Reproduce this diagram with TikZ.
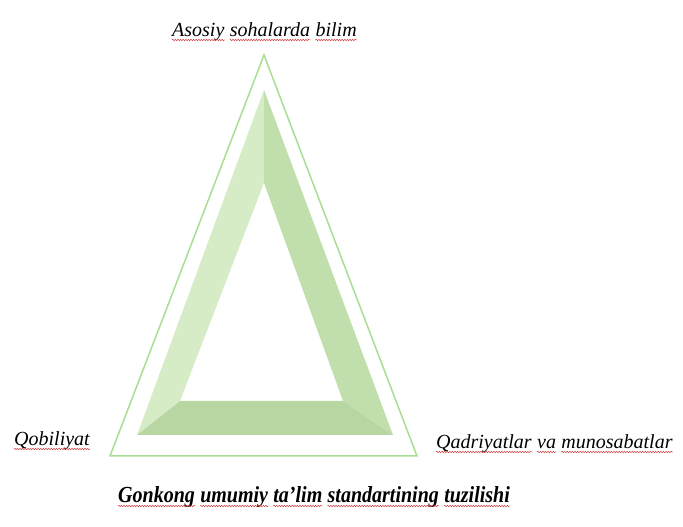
\documentclass[tikz,border=0pt]{standalone}
\usepackage{fontspec}
\setmainfont{Liberation Serif}
\usetikzlibrary{decorations.pathmorphing}
\definecolor{outerline}{HTML}{A9DE92}
\definecolor{faceL}{HTML}{D6ECC6}
\definecolor{faceR}{HTML}{C0DFAD}
\definecolor{faceB}{HTML}{B8D6A2}
\definecolor{spellred}{HTML}{D23A3A}
\tikzset{
  lbl/.style={font=\itshape\fontsize{20}{23}\selectfont, inner sep=0pt, anchor=base west},
  ttl/.style={font=\bfseries\itshape\fontsize{23}{26}\selectfont, inner sep=0pt, anchor=base west, xscale=0.87, transform shape},
  wave/.style={spellred, line width=0.5pt, decorate,
    decoration={snake, segment length=2.6pt, amplitude=0.7pt}},
}
\newcommand\underwave[1]{\draw[wave] ([yshift=-3pt]#1.base west) -- ([yshift=-3pt]#1.base east);}
\begin{document}
\begin{tikzpicture}[x=1pt,y=1pt]
\useasboundingbox (0,0) rectangle (683,527);
% outer triangle (y = 527 - pixel y)
\coordinate (oA) at (264,472);
\coordinate (oL) at (110,71);
\coordinate (oR) at (417,71);
\draw[outerline, line width=1.5pt, line join=miter] (oA) -- (oL) -- (oR) -- cycle;
% beveled band
\coordinate (bA) at (264,437);
\coordinate (bL) at (137,92);
\coordinate (bR) at (393,92);
\coordinate (hA) at (264,344);
\coordinate (hL) at (180,126);
\coordinate (hR) at (343,126);
\fill[faceL] (bA) -- (bL) -- (hL) -- (hA) -- cycle;
\fill[faceR] (bA) -- (bR) -- (hR) -- (hA) -- cycle;
\fill[faceB] (bL) -- (bR) -- (hR) -- (hL) -- cycle;
% top label
\node[lbl] (t1) at (172,490) {Asosiy};
\node[lbl] (t2) at ([xshift=5pt]t1.base east) {sohalarda};
\node[lbl] (t3) at ([xshift=5pt]t2.base east) {bilim};
% left label
\node[lbl] (l1) at (14,81) {Qobiliyat};
% right label
\node[lbl] (r1) at (436,78) {Qadriyatlar};
\node[lbl] (r2) at ([xshift=5pt]r1.base east) {va};
\node[lbl] (r3) at ([xshift=5pt]r2.base east) {munosabatlar};
% title
\node[ttl] (c1) at (118,24) {Gonkong};
\node[ttl] (c2) at ([xshift=5pt]c1.base east) {umumiy};
\node[ttl] (c3) at ([xshift=5pt]c2.base east) {ta'lim};
\node[ttl] (c4) at ([xshift=5pt]c3.base east) {standartining};
\node[ttl] (c5) at ([xshift=5pt]c4.base east) {tuzilishi};
% spell-check underlines
\foreach \w in {t1,t2,t3,l1,r1,r2,r3,c1,c2,c3,c4,c5} {\underwave{\w}}
\end{tikzpicture}
\end{document}
